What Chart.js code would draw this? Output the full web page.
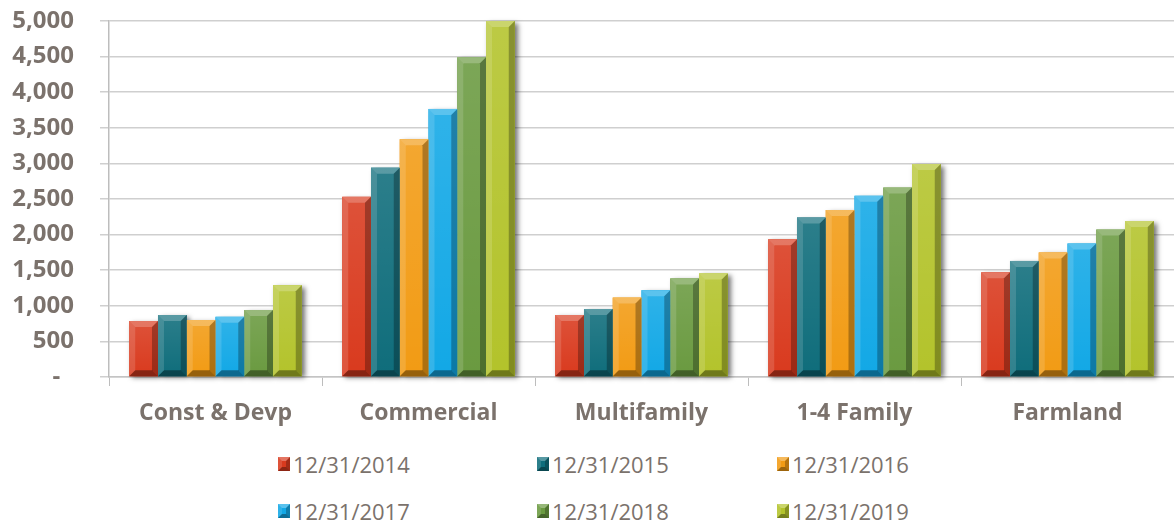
<!DOCTYPE html>
<html>
<head>
<meta charset="utf-8">
<title>Loan portfolio by type</title>
<script src="https://cdn.jsdelivr.net/npm/chart.js@4.4.1/dist/chart.umd.min.js"></script>
<style>
  html, body { margin: 0; padding: 0; background: #fff; }
  #wrap { position: relative; width: 1174px; height: 523px; }
  #chart-box { position: absolute; left: 0; top: 0; width: 1174px; height: 440px; }
  #legend { position: absolute; left: 0; top: 440px; width: 1174px; height: 83px;
            font-family: "Open Sans", sans-serif; font-size: 22px; color: #7b726c; }
  .item { position: absolute; display: flex; align-items: center; height: 30px; white-space: nowrap; }
  .swatch { width: 4px; height: 6px; border-style: solid; border-width: 4px; margin-right: 3px; }
</style>
</head>
<body>
<div id="wrap">
  <div id="chart-box"><canvas id="loans-chart"></canvas></div>
  <div id="legend"></div>
</div>

<script>
  // Data
  const categories = ['Const & Devp', 'Commercial', 'Multifamily', '1-4 Family', 'Farmland'];
  const seriesLabels = ['12/31/2014', '12/31/2015', '12/31/2016', '12/31/2017', '12/31/2018', '12/31/2019'];
  const values2014 = [785, 2530, 870, 1935, 1470];
  const values2015 = [870, 2940, 955, 2240, 1630];
  const values2016 = [800, 3340, 1115, 2345, 1750];
  const values2017 = [845, 3765, 1220, 2545, 1875];
  const values2018 = [940, 4490, 1385, 2660, 2070];
  const values2019 = [1290, 5000, 1455, 2990, 2190];
  const yTicks = [0, 500, 1000, 1500, 2000, 2500, 3000, 3500, 4000, 4500, 5000];

  const seriesColors = ['#d93a1e', '#0f6d7b', '#f29b14', '#12a8e6', '#6a9a40', '#b3c32b'];
  const textColor = '#7b726c';

  // lighten (amt > 0) or darken (amt < 0) a hex colour
  function shade(hex, amt) {
    const n = parseInt(hex.slice(1), 16);
    let r = n >> 16, g = (n >> 8) & 255, b = n & 255;
    const f = c => Math.round(amt > 0 ? c + (255 - c) * amt : c * (1 + amt));
    return `rgb(${f(r)}, ${f(g)}, ${f(b)})`;
  }

  function facet(ctx, pts, color) {
    ctx.beginPath();
    ctx.moveTo(pts[0][0], pts[0][1]);
    for (let i = 1; i < pts.length; i++) ctx.lineTo(pts[i][0], pts[i][1]);
    ctx.closePath();
    ctx.fillStyle = color;
    ctx.fill();
  }

  function eachBar(chart, fn) {
    chart.data.datasets.forEach((ds, i) => {
      chart.getDatasetMeta(i).data.forEach(bar => {
        const { x, y, base, width } = bar.getProps(['x', 'y', 'base', 'width'], true);
        fn(x - width / 2, x + width / 2, y, base, width, ds.backgroundColor);
      });
    });
  }

  // Drop shadow under the bars, then bevelled edges on top, using the bar elements' own geometry
  const bevelPlugin = {
    id: 'bevel',
    beforeDatasetsDraw(chart) {
      const ctx = chart.ctx;
      ctx.save();
      ctx.shadowColor = 'rgba(0, 0, 0, 0.55)';
      ctx.shadowBlur = 5;
      ctx.shadowOffsetX = 3;
      ctx.shadowOffsetY = 2;
      eachBar(chart, (l, r, t, b, w, color) => {
        ctx.fillStyle = color;
        ctx.fillRect(l, t, w, b - t);
      });
      ctx.restore();
    },
    afterDatasetsDraw(chart) {
      const ctx = chart.ctx;
      ctx.save();
      eachBar(chart, (l, r, t, b, w) => {
        const s = Math.min(6, w / 4, (b - t) / 2);

        const grad = ctx.createLinearGradient(0, t, 0, b);
        grad.addColorStop(0, 'rgba(255,255,255,0.12)');
        grad.addColorStop(1, 'rgba(255,255,255,0)');
        ctx.fillStyle = grad;
        ctx.fillRect(l, t, w, b - t);

        facet(ctx, [[l, t], [r, t], [r - s, t + s], [l + s, t + s]], 'rgba(255,255,255,0.22)');
        facet(ctx, [[l, t], [l + s, t + s], [l + s, b - s], [l, b]], 'rgba(255,255,255,0.14)');
        facet(ctx, [[r, t], [r, b], [r - s, b - s], [r - s, t + s]], 'rgba(0,0,0,0.28)');
        facet(ctx, [[l, b], [r, b], [r - s, b - s], [l + s, b - s]], 'rgba(0,0,0,0.38)');
      });
      ctx.restore();
    }
  };

  const seriesValues = [values2014, values2015, values2016, values2017, values2018, values2019];

  const datasets = seriesLabels.map((label, i) => ({
    label: label,
    data: seriesValues[i],
    backgroundColor: seriesColors[i],
    borderWidth: 0,
    barPercentage: 1.0,
    categoryPercentage: 0.81
  }));

  new Chart(document.getElementById('loans-chart'), {
    type: 'bar',
    data: { labels: categories, datasets: datasets },
    plugins: [bevelPlugin],
    options: {
      responsive: true,
      maintainAspectRatio: false,
      animation: false,
      layout: { padding: { top: 21, right: 0, left: 0, bottom: 0 } },
      plugins: {
        legend: { display: false },
        tooltip: { enabled: false }
      },
      scales: {
        x: {
          offset: true,
          grid: { display: true, drawOnChartArea: false, drawTicks: true, tickLength: 9, color: '#bdbdbd', lineWidth: 1 },
          border: { display: true, color: '#c4c4c4', width: 1.5 },
          ticks: {
            color: textColor,
            padding: 14,
            font: { family: '"Open Sans", sans-serif', size: 23, weight: 'bold' }
          },
          afterFit: scale => { scale.height = 63; }
        },
        y: {
          min: 0,
          max: 5000,
          afterBuildTicks: scale => { scale.ticks = yTicks.map(v => ({ value: v })); },
          grid: { color: '#cfcfcf', lineWidth: 1.5, tickLength: 9, drawTicks: true },
          border: { display: true, color: '#bdbdbd', width: 1.5 },
          ticks: {
            color: textColor,
            padding: 26,
            font: { family: '"Open Sans", sans-serif', size: 24, weight: 'bold' },
            callback: v => v === 0 ? '-\u2007' : v.toLocaleString('en-US')
          },
          afterFit: scale => {
            // fixed axis width; drop the label overflow padding so the plot top sits at the layout padding
            scale.width = 109;
            scale.paddingTop = 0;
            scale.paddingBottom = 0;
          }
        }
      }
    }
  });

  // HTML legend, two rows of three like the reference
  const legendCols = [278, 537, 777];
  const legendRows = [9, 56];
  const legend = document.getElementById('legend');
  seriesLabels.forEach((label, i) => {
    const item = document.createElement('div');
    item.className = 'item';
    item.style.left = legendCols[i % 3] + 'px';
    item.style.top = legendRows[Math.floor(i / 3)] + 'px';
    const sw = document.createElement('span');
    sw.className = 'swatch';
    const c = seriesColors[i];
    sw.style.background = c;
    sw.style.borderTopColor = shade(c, 0.3);
    sw.style.borderLeftColor = shade(c, 0.12);
    sw.style.borderRightColor = shade(c, -0.25);
    sw.style.borderBottomColor = shade(c, -0.35);
    const tx = document.createElement('span');
    tx.textContent = label;
    item.appendChild(sw);
    item.appendChild(tx);
    legend.appendChild(item);
  });
</script>
</body>
</html>
